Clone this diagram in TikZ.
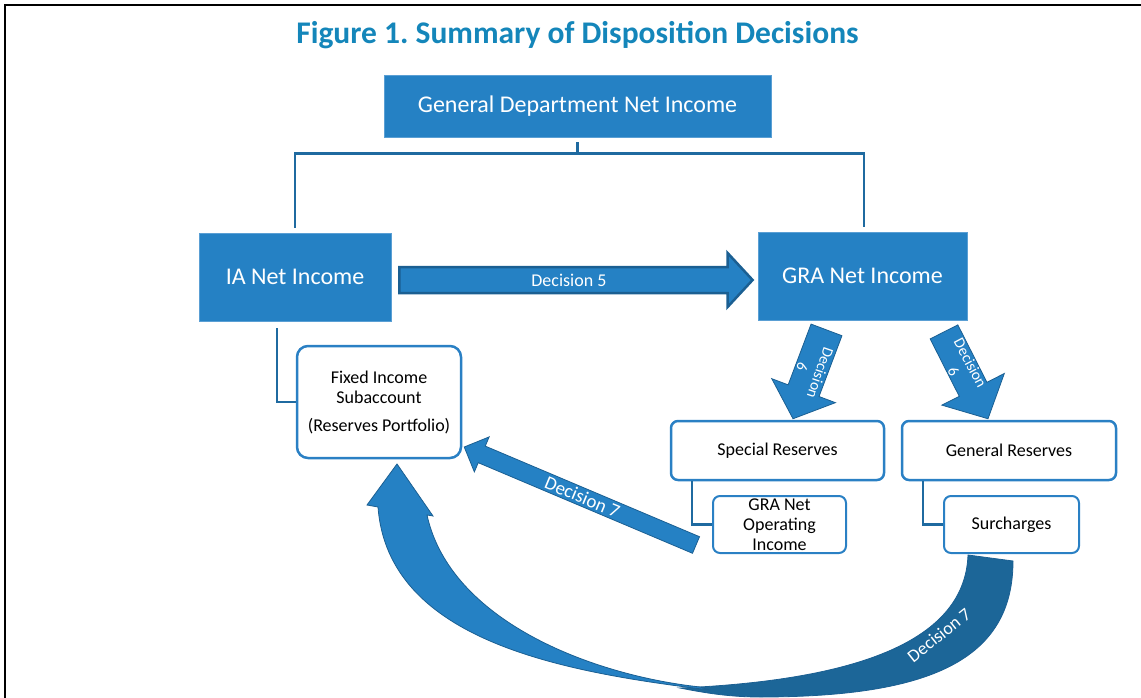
\documentclass[tikz,border=0pt]{standalone}
\usepackage{fontspec}
\setmainfont{Carlito}
\usepackage{xcolor}
\usepackage{tikz}
\usetikzlibrary{calc, positioning}
\definecolor{titleBlue}{HTML}{1486BA}
\definecolor{boxBlue}{HTML}{2581C4}
\definecolor{boxEdge}{HTML}{5A9FD4}
\definecolor{lineBlue}{HTML}{1F6AA0}
\definecolor{arrowEdge}{HTML}{1B5F92}
\definecolor{backBlue}{HTML}{1C6698}
\definecolor{frameBlue}{HTML}{2A80C4}
\def\bigText{24}
\def\smallText{18}
\def\linkGap{5}
\frenchspacing

% block arrow: style, tail, tip, half shaft, half head, head length
\newcommand{\blockarrow}[6]{%
    \coordinate (base) at ($(#3)!#6!(#2)$);
    \path[#1] ($(#2)!#4!90:(#3)$) -- ($(base)!#4!-90:(#2)$) -- ($(base)!#5!-90:(#2)$)
        -- (#3) -- ($(base)!#5!90:(#2)$) -- ($(base)!#4!90:(#2)$) -- ($(#2)!#4!-90:(#3)$) -- cycle;
}

\begin{document}
\begin{tikzpicture}[x=1pt, y=-1pt,
    bluebox/.style={rectangle, fill=boxBlue, draw=boxEdge, line width=0.8pt, text=white,
        font=\fontsize{\bigText}{29}\selectfont, inner sep=0pt},
    whitebox/.style={rectangle, rounded corners=7pt, fill=white, draw=frameBlue, line width=2.5pt,
        font=\fontsize{\smallText}{20}\selectfont, align=center, inner sep=0pt},
    link/.style={draw=lineBlue, line width=2.5pt},
    flat/.style={fill=boxBlue, draw=arrowEdge, line width=0.8pt},
    lbl/.style={text=white, font=\fontsize{\smallText}{20}\selectfont, inner sep=0pt, align=center}]
    \useasboundingbox (0,0) rectangle (1141,698);

    % Draw frame and title
    \draw[line width=2.5pt] (5,698) -- (5,5) -- (1141,5);
    \node[font=\bfseries\fontsize{31.5}{36}\selectfont, text=titleBlue] (title) at (577.5,35) {Figure 1. Summary of Disposition Decisions};

    % Draw income boxes
    \node[bluebox, minimum width=387, minimum height=62] (gdni) at (577.5,106) {General Department Net Income};
    \node[bluebox, minimum width=192, minimum height=88] (ia) at (295,277) {IA Net Income};
    \node[bluebox, minimum width=209, minimum height=88] (gra) at (862.5,276) {GRA Net Income};

    % Draw reserve boxes
    \node[whitebox, rounded corners=11pt, minimum width=164, minimum height=112] (fis) at (379,402)
        {Fixed Income\\Subaccount\\[8pt](Reserves Portfolio)};
    \node[whitebox, minimum width=213, minimum height=59] (spec) at (777.5,450.5) {Special Reserves};
    \node[whitebox, minimum width=214, minimum height=59] (genr) at (1009,450.5) {General Reserves};
    \node[whitebox, line width=2pt, minimum width=133, minimum height=57] (gnoi) at (779.5,524.5) {GRA Net\\Operating\\Income};
    \node[whitebox, line width=2pt, minimum width=135, minimum height=57] (surch) at (1011.5,524.5) {Surcharges};

    % Draw links
    \coordinate (split) at ($(gdni.south)+(0,16)$);
    \draw[link] ($(gdni.south)+(0,\linkGap)$) -- (split);
    \draw[link] ($(ia.north)+(0,-\linkGap)$) |- (split) -| ($(gra.north)+(1.5,-\linkGap)$);
    \draw[link] ($(ia.south)+(-18,7)$) |- (fis.west);
    \draw[link] ($(spec.south west)+(22,0)$) |- (gnoi.west);
    \draw[link] ($(genr.south west)+(22,0)$) |- (surch.west);

    % Draw straight decision arrows
    \coordinate (d5s) at ($(ia.east)+(8,3)$);
    \coordinate (d5e) at ($(gra.west)+(-5,4)$);
    \blockarrow{flat, line width=2.5pt}{d5s}{d5e}{13pt}{27pt}{25pt}
    \path (d5s) -- (d5e) node[lbl, pos=0.48] (d5) {Decision 5};

    \coordinate (d6as) at ($(gra.south)+(-36,9.5)$);
    \coordinate (d6ae) at ($(spec.north)+(15.5,-1)$);
    \blockarrow{flat}{d6as}{d6ae}{16.5pt}{34pt}{30pt}
    \path (d6as) -- (d6ae) node[lbl, pos=0.45, rotate=-109, font=\fontsize{15.5}{19}\selectfont] (d6a) {Decision\\6};

    \coordinate (d6bs) at ($(gra.south)+(81.5,11.5)$);
    \coordinate (d6be) at ($(genr.north)+(-21,-1)$);
    \blockarrow{flat}{d6bs}{d6be}{15.5pt}{35pt}{33pt}
    \path (d6bs) -- (d6be) node[lbl, pos=0.41, rotate=-62, font=\fontsize{15.5}{19}\selectfont] (d6b) {Decision\\6};

    \coordinate (d7s) at ($(gnoi.west)+(-16,20.5)$);
    \coordinate (d7e) at ($(fis.east)+(2,45)$);
    \blockarrow{flat}{d7s}{d7e}{9pt}{19pt}{19pt}
    \path (d7s) -- (d7e) node[lbl, pos=0.49, rotate=-22.7, font=\fontsize{19}{22}\selectfont] (d7a) {Decision 7};

    % Draw curved decision arrow
    \path[fill=backBlue, draw=arrowEdge, line width=0.8pt] (968,555) -- (1013,561)
        .. controls (1013,660) and (930,697) .. (760,697)
        .. controls (730,697) and (705,693) .. (680,688)
        .. controls (860,680) and (965,640) .. (968,555) -- cycle;
    \path[flat] (710,690) .. controls (560,672) and (388,640) .. (378,507) -- (367,505) -- (397,464)
        -- (433,516) -- (427,515) .. controls (450,620) and (590,675) .. (700,687) -- cycle;
    \node[lbl, rotate=38.5] (d7b) at (939,635) {Decision 7};
\end{tikzpicture}
\end{document}
